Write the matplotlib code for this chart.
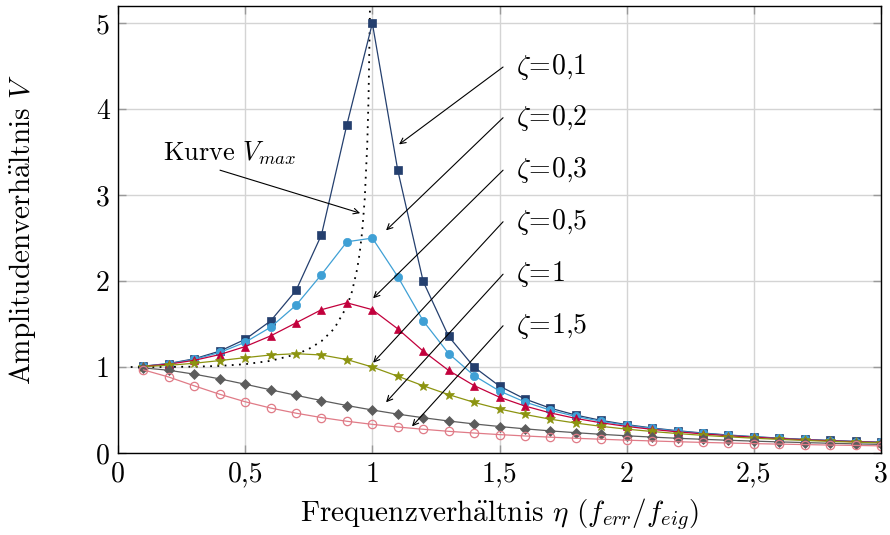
import matplotlib
matplotlib.use("Agg")
import matplotlib.pyplot as plt

plt.rcParams['font.family'] = ['cmr10', 'DejaVu Serif']
plt.rcParams['mathtext.fontset'] = 'cm'
plt.rcParams['axes.formatter.use_mathtext'] = True

# frequency ratio eta (marker positions)
eta = [0.1, 0.2, 0.3, 0.4, 0.5, 0.6, 0.7, 0.8, 0.9, 1.0,
       1.1, 1.2, 1.3, 1.4, 1.5, 1.6, 1.7, 1.8, 1.9, 2.0,
       2.1, 2.2, 2.3, 2.4, 2.5, 2.6, 2.7, 2.8, 2.9, 3.0]

# amplitude ratio V for each damping ratio
V_01 = [1.010, 1.041, 1.096, 1.185, 1.322, 1.536, 1.891, 2.538, 3.821, 5.000,
        3.288, 1.995, 1.356, 1.000, 0.778, 0.628, 0.521, 0.441, 0.379, 0.330,
        0.291, 0.259, 0.232, 0.209, 0.190, 0.173, 0.158, 0.146, 0.135, 0.125]
V_02 = [1.009, 1.038, 1.089, 1.169, 1.288, 1.463, 1.719, 2.076, 2.457, 2.500,
        2.051, 1.536, 1.157, 0.900, 0.721, 0.593, 0.498, 0.425, 0.368, 0.322,
        0.285, 0.254, 0.228, 0.206, 0.187, 0.171, 0.157, 0.144, 0.133, 0.124]
V_03 = [1.008, 1.034, 1.078, 1.145, 1.238, 1.362, 1.514, 1.667, 1.747, 1.667,
        1.444, 1.185, 0.960, 0.784, 0.649, 0.546, 0.466, 0.402, 0.351, 0.309,
        0.275, 0.246, 0.222, 0.201, 0.183, 0.168, 0.154, 0.142, 0.131, 0.122]
V_05 = [1.005, 1.020, 1.044, 1.075, 1.109, 1.140, 1.155, 1.140, 1.087, 1.000,
        0.893, 0.782, 0.679, 0.589, 0.512, 0.448, 0.393, 0.348, 0.310, 0.277,
        0.250, 0.226, 0.205, 0.188, 0.172, 0.158, 0.146, 0.135, 0.126, 0.117]
V_10 = [0.990, 0.962, 0.917, 0.862, 0.800, 0.735, 0.671, 0.610, 0.552, 0.500,
        0.452, 0.410, 0.372, 0.338, 0.308, 0.281, 0.257, 0.236, 0.217, 0.200,
        0.185, 0.171, 0.159, 0.148, 0.138, 0.129, 0.121, 0.113, 0.106, 0.100]
V_15 = [0.967, 0.883, 0.781, 0.683, 0.596, 0.523, 0.463, 0.412, 0.369, 0.333,
        0.302, 0.276, 0.252, 0.232, 0.214, 0.198, 0.184, 0.171, 0.160, 0.149,
        0.140, 0.131, 0.123, 0.116, 0.109, 0.103, 0.098, 0.092, 0.088, 0.083]

# curve of maxima
eta_max = [0.05, 0.1, 0.2, 0.3, 0.4, 0.5, 0.6, 0.7, 0.75, 0.8, 0.85, 0.9,
           0.92, 0.94, 0.95, 0.96, 0.97, 0.98, 0.985, 0.99, 0.992]
V_max = [1.000, 1.000, 1.001, 1.004, 1.013, 1.033, 1.072, 1.147, 1.210, 1.301,
         1.446, 1.705, 1.878, 2.135, 2.322, 2.576, 2.953, 3.590, 4.129, 5.038, 5.625]

series = [
    (V_01, '#243f6e', 's', 'full'),
    (V_02, '#3fa0d5', 'o', 'full'),
    (V_03, '#c2003c', '^', 'full'),
    (V_05, '#8c9410', '*', 'full'),
    (V_10, '#5c5c5c', 'D', 'full'),
    (V_15, '#e07b87', 'o', 'none'),
]

labels = [r'$\zeta\!=\!0{,}1$', r'$\zeta\!=\!0{,}2$', r'$\zeta\!=\!0{,}3$',
          r'$\zeta\!=\!0{,}5$', r'$\zeta\!=\!1$', r'$\zeta\!=\!1{,}5$']
label_y = [4.49, 3.90, 3.29, 2.69, 2.08, 1.48]
tips = [(1.105, 3.59), (1.054, 2.59), (1.003, 1.80),
        (1.003, 1.05), (1.054, 0.59), (1.156, 0.31)]

fig = plt.figure(figsize=(8.9, 5.35), dpi=100)
ax = fig.add_axes([0.1326, 0.1533, 0.8573, 0.8355])

ax.plot(eta_max, V_max, linestyle=(0, (1, 3)), color='black', lw=1.3)

for vals, col, mk, fill in series:
    ms = 6 if mk != 'D' else 5
    if mk == '*':
        ms = 7
    ax.plot(eta, vals, color=col, lw=0.9, marker=mk, markersize=ms,
            fillstyle=fill, markeredgewidth=0.9 if fill == 'none' else 0.5)

for lab, ly, tip in zip(labels, label_y, tips):
    ax.annotate('', xy=tip, xytext=(1.514, ly),
                arrowprops=dict(arrowstyle='->', lw=0.8, color='black',
                                shrinkA=0, shrinkB=0))
    ax.text(1.565, ly, lab, fontsize=20, va='center', ha='left')

ax.annotate('', xy=(0.952, 2.79), xytext=(0.401, 3.29),
            arrowprops=dict(arrowstyle='->', lw=0.8, color='black',
                            shrinkA=0, shrinkB=0))
ax.text(0.177, 3.49, r'Kurve $V_{max}$', fontsize=19, va='center', ha='left')

ax.set_xlim(0, 3)
ax.set_ylim(0, 5.2)
ax.set_xticks([0, 0.5, 1, 1.5, 2, 2.5, 3])
ax.set_xticklabels(['0', '0,5', '1', '1,5', '2', '2,5', '3'])
ax.set_yticks([0, 1, 2, 3, 4, 5])
ax.set_yticklabels(['0', '1', '2', '3', '4', '5'])
ax.tick_params(direction='in', length=6, width=1, color='#999999',
               labelsize=20, top=True, right=True, labelcolor='black', pad=6)
ax.grid(True, color='#d4d4d4', lw=1)
ax.set_axisbelow(True)
for s in ax.spines.values():
    s.set_linewidth(1)

ax.set_xlabel(r'Frequenzverh$\ddot{\mathrm{a}}$ltnis $\eta$ $(f_{err}/f_{eig})$', fontsize=21)
ax.set_ylabel(r'Amplitudenverh$\ddot{\mathrm{a}}$ltnis $V$', fontsize=21)
ax.xaxis.set_label_coords(0.5, -0.096)
ax.yaxis.set_label_coords(-0.105, 0.5)

fig.savefig('out.png', dpi=100)
